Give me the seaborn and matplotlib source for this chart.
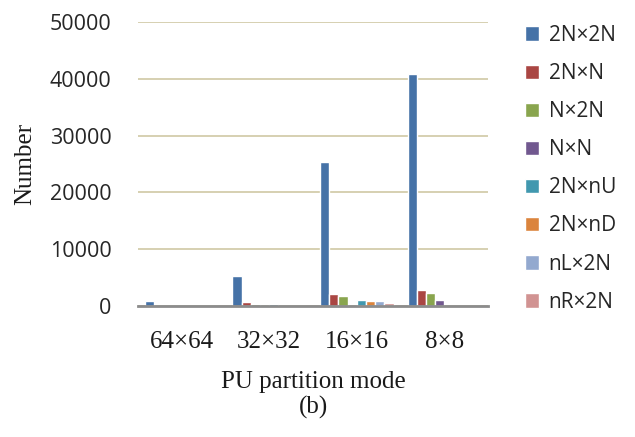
import numpy as np
import pandas as pd
import matplotlib
matplotlib.use("Agg")
import matplotlib.pyplot as plt
import seaborn as sns

# PU sizes and partition modes
sizes = ["64×64", "32×32", "16×16", "8×8"]
modes = ["2N×2N", "2N×N", "N×2N", "N×N", "2N×nU", "2N×nD", "nL×2N", "nR×2N"]

# counts per mode (one value per PU size)
v_2Nx2N = [900, 5350, 25350, 40800]
v_2NxN = [0, 650, 2100, 2800]
v_Nx2N = [0, 350, 1800, 2300]
v_NxN = [0, 0, 0, 1100]
v_2NxnU = [0, 350, 1050, 0]
v_2NxnD = [0, 0, 830, 0]
v_nLx2N = [0, 0, 830, 0]
v_nRx2N = [0, 0, 580, 0]

colors = ["#4572A7", "#AA4643", "#89A54E", "#71588F",
          "#4198AF", "#DB843D", "#93A9CF", "#D19392"]

all_vals = [v_2Nx2N, v_2NxN, v_Nx2N, v_NxN, v_2NxnU, v_2NxnD, v_nLx2N, v_nRx2N]
rows = []
for m, vals in zip(modes, all_vals):
    for s, v in zip(sizes, vals):
        rows.append({"size": s, "mode": m, "count": v})
df = pd.DataFrame(rows)

sns.set_style("white")
plt.rcParams["font.family"] = ["Open Sans", "DejaVu Sans"]

fig = plt.figure(figsize=(6.35, 4.37), dpi=100)
ax = fig.add_axes([0.217, 0.2998, 0.552, 0.65])

sns.barplot(data=df, x="size", y="count", hue="mode", order=sizes,
            hue_order=modes, palette=colors, width=0.84, saturation=1,
            ax=ax)

ax.set_ylim(0, 50000)
ax.set_yticks(np.arange(0, 50001, 10000))
ax.yaxis.grid(True, color="#CFC8A4", linewidth=1.2)
ax.set_axisbelow(True)
for sp in ["left", "right", "top"]:
    ax.spines[sp].set_visible(False)
ax.spines["bottom"].set_color("#8C8C8C")
ax.spines["bottom"].set_linewidth(2)
ax.tick_params(axis="both", length=0)
ax.tick_params(axis="y", labelsize=15.5, colors="#262626", pad=19)
ax.tick_params(axis="x", pad=18)
for lab in ax.get_xticklabels():
    lab.set_fontfamily("Liberation Serif")
    lab.set_fontsize(18)
    lab.set_color("#1a1a1a")

ax.set_xlabel("PU partition mode\n(b)", fontfamily="Liberation Serif",
              fontsize=18, color="#1a1a1a", labelpad=13, linespacing=1.15)
ax.set_ylabel("Number", fontfamily="Liberation Serif", fontsize=18,
              color="#1a1a1a", labelpad=10)

leg = ax.legend(loc="upper left", bbox_to_anchor=(1.05, 1.055), frameon=False,
                fontsize=15, handlelength=0.7, handleheight=0.7,
                labelspacing=0.82, handletextpad=0.45)
for t in leg.get_texts():
    t.set_color("#262626")

fig.savefig("out.png", dpi=100)
